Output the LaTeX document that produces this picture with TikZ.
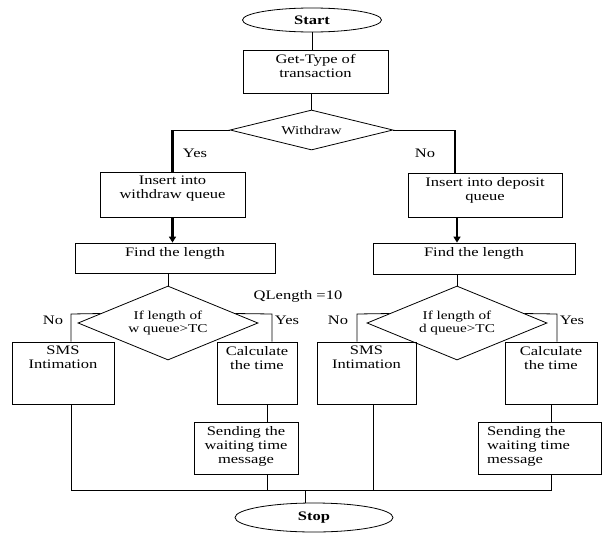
\documentclass[tikz,border=0pt]{standalone}
\usepackage{fontspec}
\setmainfont[FakeStretch = 1.27]{Liberation Serif}
\usetikzlibrary{shapes.geometric,arrows.meta}
\begin{document}
\begin{tikzpicture}[x = 1pt, y = -1pt, line width = 0.8pt,
  every node/.style = {font = \fontsize{13}{14}\selectfont},
  box/.style = {draw, rectangle, inner sep = 0pt},
  oval/.style = {draw, ellipse, inner sep = 0pt},
  test/.style = {draw, diamond, aspect = 2.4, inner sep = 0pt, align = center, font = \fontsize{12}{13}\selectfont},
  toptext/.style = {label = {[anchor = north, align = center, inner sep = 4pt]north:#1}},
  thickline/.style = {line width = 2.4pt},
  flow/.style = {line width = 2.4pt, -{Triangle[length = 6pt, width = 7pt]}}]
\useasboundingbox (0,0) rectangle (602,533);
\node[oval, minimum width = 139pt, minimum height = 24pt] (start) at (312,20) {\bfseries Start};
\node[box, minimum width = 145pt, minimum height = 43pt, toptext = {Get-Type of\\transaction}] (gettype) at (315.5,71.5) {};
\node[test, minimum width = 163pt, minimum height = 40pt] (wd) at (311.5,130) {Withdraw};
\node (yes1) at (195,153) {Yes};
\node (no1) at (425,153) {No};
\node[box, minimum width = 145pt, minimum height = 45pt, toptext = {Insert into\\withdraw queue}] (insW) at (172.5,194.5) {};
\node[box, minimum width = 154pt, minimum height = 44pt, toptext = {Insert into deposit\\queue}] (insD) at (485,195) {};
\node[box, minimum width = 200pt, minimum height = 30pt, toptext = {Find the length}] (findL) at (175,258) {};
\node[box, minimum width = 202pt, minimum height = 31pt, toptext = {Find the length}] (findR) at (474,258.5) {};
\node[test, minimum width = 180pt, minimum height = 74pt] (dL) at (168,323) {If length of\\w queue>TC};
\node[test, minimum width = 180pt, minimum height = 74pt] (dR) at (457,323) {If length of\\d queue>TC};
\node (qlen) at (298,296) {QLength =10};
\node (noL) at (53,320) {No};
\node (yesL) at (287,320) {Yes};
\node (noR) at (338,320) {No};
\node (yesR) at (572,320) {Yes};
\node[box, minimum width = 102pt, minimum height = 62pt, toptext = {SMS\\Intimation}] (smsL) at (63,373) {};
\node[box, minimum width = 80pt, minimum height = 62pt, toptext = {Calculate\\the time}] (calcL) at (257,373) {};
\node[box, minimum width = 104pt, minimum height = 52pt, toptext = {Sending the\\waiting time\\message}] (sendL) at (246,448) {};
\node[box, minimum width = 99pt, minimum height = 62pt, toptext = {SMS\\Intimation}] (smsR) at (366.5,373) {};
\node[box, minimum width = 92pt, minimum height = 62pt, toptext = {Calculate\\the time}] (calcR) at (551,373) {};
\node[box, minimum width = 123pt, minimum height = 52pt, label = {[anchor = north west, align = left, inner xsep = 9pt, inner ysep = 4pt]north west:Sending the\\waiting time\\message}] (sendR) at (539.5,448) {};
\node[oval, minimum width = 158pt, minimum height = 29pt] (stop) at (314,517.5) {\bfseries Stop};
\coordinate (cR) at (455,130);
\coordinate (nL) at (71,314);
\coordinate (yL) at (272,314);
\coordinate (nR) at (357,314);
\coordinate (yR) at (557,314);
\coordinate (aL) at (71,490);
\coordinate (bL) at (267,490);
\coordinate (aR) at (373,490);
\coordinate (bR) at (551,490);
\coordinate (sT) at (305,490);
\draw (start.south) -- (start.south |- gettype.north);
\draw (wd.north |- gettype.south) -- (wd.north);
\draw (wd.west) -- (wd.west -| insW.north);
\draw[thickline] (wd.west -| insW.north) -- (insW.north);
\draw (wd.east) -- (cR);
\draw[thickline] (cR) -- (cR |- insD.north);
\draw[flow] (insW.south) -- (insW.south |- findL.north);
\draw[flow] (dR.north |- insD.south) -- (dR.north |- findR.north);
\draw (dL.north |- findL.south) -- (dL.north);
\draw (dR.north |- findR.south) -- (dR.north);
\draw (dL.172) -- (nL) -- (nL |- smsL.north);
\draw (dL.8) -- (yL) -- (yL |- calcL.north);
\draw (dR.172) -- (nR) -- (nR |- smsR.north);
\draw (dR.8) -- (yR) -- (yR |- calcR.north);
\draw (bL |- calcL.south) -- (bL |- sendL.north);
\draw (bR |- calcR.south) -- (bR |- sendR.north);
\draw (aL |- smsL.south) -- (aL) -- (bR) -- (bR |- sendR.south);
\draw (bL |- sendL.south) -- (bL);
\draw (aR |- smsR.south) -- (aR);
\draw (sT) -- (sT |- stop.north);
\end{tikzpicture}
\end{document}
